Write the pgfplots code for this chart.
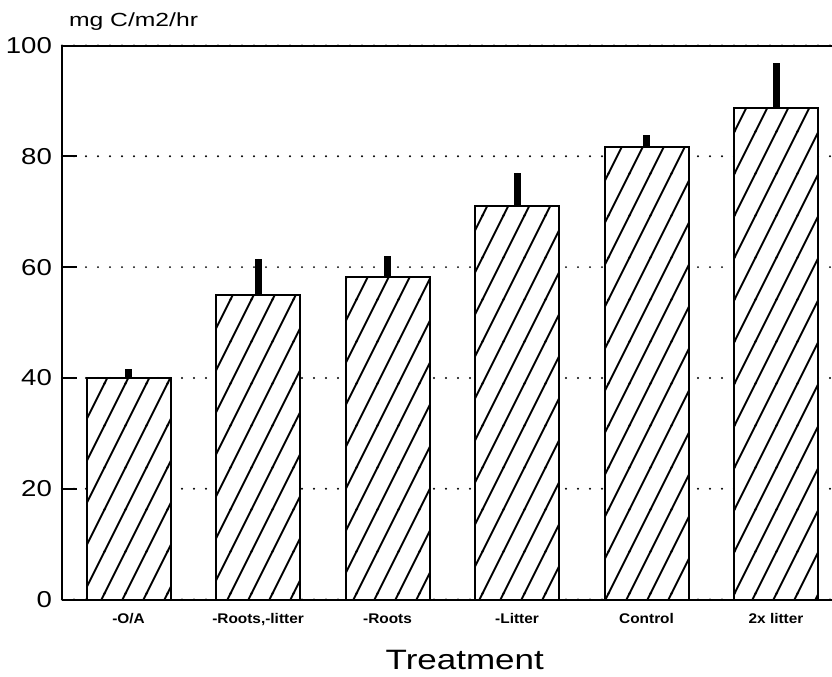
\documentclass[border=0pt]{standalone}
\usepackage{fontspec}
\setmainfont{Liberation Sans}
\newfontfamily\stretchA[FakeStretch=1.2]{Liberation Sans}
\newfontfamily\stretchB[FakeStretch=1.3]{Liberation Sans}
\newfontfamily\stretchC[FakeStretch=1.1]{Liberation Sans}
\newfontfamily\stretchD[FakeStretch=1.25]{Liberation Sans}
\usepackage{pgfplots}
\usepackage{pgfplotstable}
\pgfplotsset{compat=1.18}
\usetikzlibrary{patterns}

\pgfdeclarepatternformonly{steephatch}{\pgfpoint{-1pt}{-1pt}}{\pgfpoint{11pt}{21pt}}{\pgfpoint{10.5pt}{21pt}}{
  \pgfsetlinewidth{0.9pt}
  \pgfpathmoveto{\pgfpoint{-0.5pt}{-1pt}}
  \pgfpathlineto{\pgfpoint{11pt}{22pt}}
  \pgfusepath{stroke}
}

\pgfplotstableread{
x y e
0 40.0 1.6
1 54.9 6.6
2 58.3 3.7
3 71.1 5.9
4 81.7 2.1
5 88.7 8.1
}\datatable

\begin{document}
\begin{tikzpicture}
\begin{axis}[
  name=ax,
  at={(0,0)}, anchor=south west,
  scale only axis, width=385pt, height=277pt,
  xmin=-0.514, xmax=5.432, ymin=0, ymax=100,
  axis x line*=bottom, axis y line*=left,
  axis line style={line width=1pt},
  ybar, bar width=42pt,
  ytick={0,20,...,100},
  tick align=inside,
  major tick length=7.5pt,
  ytick style={line width=0.9pt, black},
  xtick={0,...,5},
  xticklabels={-O/A,{-Roots,-litter},-Roots,-Litter,Control,2x litter},
  xtick style={draw=none},
  xticklabel style={font=\stretchC\fontsize{7}{8}\selectfont\bfseries, anchor=base, yshift=-12pt},
  yticklabel style={font=\stretchA\fontsize{11.5}{13}\selectfont, xshift=-1.5pt},
  /pgf/number format/assume math mode=true,
  ymajorgrids,
  grid style={black, line width=1.1pt, dash pattern=on 0pt off 6pt, line cap=round},
]
\addplot[draw=black, line width=1pt, fill=white,
  postaction={pattern=steephatch},
  error bars/.cd, y dir=plus, y explicit, error mark=none,
  error bar style={line width=3.5pt, black}]
  table[x=x, y=y, y error=e]{\datatable};
\end{axis}
\draw[line width=1pt] (ax.north west) -- (ax.north east);
\node[anchor=base west, font=\stretchB\fontsize{9.5}{11}\selectfont] at ([yshift=9.5pt]ax.north west) {mg C/m2/hr};
\node[anchor=base, font=\stretchD\fontsize{14}{16}\selectfont] at ([xshift=201.4pt,yshift=-35pt]ax.south west) {Treatment};
\pgfresetboundingbox
\path (-31pt,-38.5pt) rectangle (385pt,299.75pt);
\end{tikzpicture}
\end{document}
